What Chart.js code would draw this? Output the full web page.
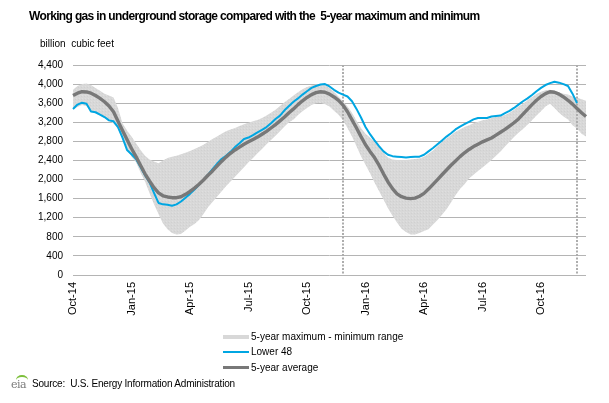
<!DOCTYPE html>
<html>
<head>
<meta charset="utf-8">
<script src="https://cdn.jsdelivr.net/npm/chart.js@4.4.1/dist/chart.umd.min.js"></script>
<style>
  html, body { margin: 0; padding: 0; background: #fff; }
  body { width: 609px; height: 403px; position: relative; overflow: hidden; font-family: "Liberation Sans", Arial, sans-serif; color: #000; }
  canvas { position: absolute; left: 0; top: 0; }
  .txt { position: absolute; white-space: pre; }
  #title { left: 29px; top: 9px; font-size: 12px; line-height: 14px; font-weight: bold; letter-spacing: -0.65px; }
  #units { left: 40px; top: 38px; font-size: 10px; line-height: 12px; }
  #legend { position: absolute; left: 0; top: 0; }
  .row { position: absolute; left: 223px; height: 12px; font-size: 10px; line-height: 12px; white-space: pre; }
  .sw { position: absolute; left: 0; width: 26px; }
  .row span { position: absolute; left: 28px; top: 0; }
  #source { left: 32px; top: 378px; font-size: 10px; line-height: 12px; letter-spacing: -0.2px; }
  #logo { position: absolute; left: 11px; top: 375px; width: 20px; height: 16px; }
  #logo b { position: absolute; left: 0; bottom: 0; font: 11px "DejaVu Serif", serif; color: #7a7a7a; letter-spacing: -0.5px; }
  #logo i { position: absolute; left: 5px; top: 0; width: 12px; height: 8px; border-top: 2px solid #7cbf3a; border-radius: 50% 50% 0 0; }
</style>
</head>
<body>
<canvas id="chart" width="609" height="403"></canvas>
<div id="title" class="txt">Working gas in underground storage compared with the  5-year maximum and minimum</div>
<div id="units" class="txt">billion  cubic feet</div>
<div id="legend"></div>
<div id="logo"><i></i><b>eia</b></div>
<div id="source" class="txt">Source:  U.S. Energy Information Administration</div>
<script>
// weekly data, first week ending Oct 24, 2014 (billion cubic feet)
const firstWeek = '2014-10-24';

const fiveYearMax = [
  3880, 3960, 4000, 4010, 3980, 3920, 3860, 3800, 3760, 3720,
  3500, 3180, 3030, 2900, 2760, 2620, 2500, 2420, 2380, 2340,
  2400, 2450, 2480, 2500, 2530, 2560, 2600, 2640, 2680, 2730,
  2790, 2850, 2900, 2960, 3010, 3050, 3080, 3120, 3160, 3190,
  3220, 3250, 3290, 3340, 3400, 3460, 3540, 3620, 3690, 3760,
  3830, 3890, 3940, 3970, 3990, 4000, 3980, 3920, 3840, 3740,
  3640, 3530, 3400, 3230, 3080, 2960, 2880, 2780, 2680, 2560,
  2460, 2420, 2410, 2410, 2410, 2420, 2430, 2440, 2480, 2540,
  2610, 2700, 2790, 2860, 2930, 3000, 3050, 3100, 3140, 3180,
  3210, 3240, 3260, 3290, 3310, 3330, 3350, 3400, 3460, 3530,
  3590, 3660, 3730, 3790, 3840, 3870, 3880, 3860, 3830, 3800,
  3780, 3740, 3720, 3680, 3650
];

const fiveYearMin = [
  3470, 3520, 3560, 3540, 3420, 3390, 3340, 3290, 3230, 3180,
  3060, 2850, 2620, 2480, 2360, 2150, 1960, 1720, 1480, 1280,
  1080, 960, 880, 850, 860, 930, 1010, 1070, 1150, 1280,
  1420, 1530, 1640, 1750, 1860, 1960, 2060, 2160, 2260, 2360,
  2450, 2550, 2640, 2740, 2830, 2920, 3010, 3110, 3200, 3260,
  3350, 3430, 3500, 3560, 3600, 3610, 3580, 3530, 3440, 3360,
  3240, 3080, 2900, 2700, 2490, 2310, 2130, 1940, 1760, 1580,
  1400, 1240, 1100, 970, 900, 850, 850, 880, 920, 960,
  1060, 1150, 1260, 1380, 1520, 1670, 1800, 1900, 2020, 2100,
  2180, 2250, 2330, 2410, 2500, 2590, 2690, 2790, 2890, 2980,
  3060, 3150, 3240, 3340, 3430, 3530, 3590, 3500, 3400, 3320,
  3260, 3140, 3070, 2960, 2900
];

const lower48 = [
  3480, 3571, 3611, 3589, 3427, 3410, 3359, 3310, 3240, 3220,
  3100, 2880, 2620, 2530, 2430, 2260, 2090, 1940, 1720, 1510,
  1480, 1470, 1450, 1480, 1540, 1620, 1700, 1790, 1890, 1990,
  2100, 2220, 2330, 2430, 2500, 2580, 2680, 2760, 2850, 2880,
  2930, 2990, 3040, 3100, 3180, 3270, 3340, 3450, 3540, 3630,
  3700, 3780, 3850, 3920, 3960, 3990, 4000, 3950, 3880, 3820,
  3780, 3740, 3640, 3480, 3300, 3100, 2950, 2820, 2700, 2590,
  2520, 2490, 2480, 2470, 2460, 2470, 2480, 2480, 2520, 2590,
  2660, 2740, 2820, 2900, 2970, 3050, 3110, 3160, 3210, 3260,
  3290, 3290, 3290, 3320, 3330, 3340, 3390, 3440, 3500, 3570,
  3640, 3700, 3770, 3850, 3920, 3980, 4020, 4050, 4030, 4000,
  3960, 3800, 3600
];

const fiveYearAvg = [
  3760, 3810, 3840, 3835, 3810, 3760, 3700, 3630, 3540, 3420,
  3220, 3030, 2840, 2650, 2480, 2300, 2120, 1970, 1830, 1720,
  1660, 1635, 1620, 1620, 1640, 1690, 1750, 1820, 1900, 1990,
  2090, 2180, 2280, 2380, 2470, 2550, 2620, 2680, 2740, 2790,
  2840, 2890, 2950, 3010, 3080, 3150, 3230, 3310, 3400, 3480,
  3570, 3650, 3720, 3780, 3820, 3840, 3830, 3790, 3730, 3660,
  3560, 3420, 3250, 3080, 2900, 2730, 2590, 2460, 2300, 2120,
  1950, 1810, 1700, 1640, 1610, 1600, 1610, 1650, 1710, 1800,
  1900, 2000, 2100, 2200, 2300, 2390, 2480, 2560, 2630, 2690,
  2740, 2790, 2830, 2870, 2930, 2990, 3050, 3120, 3190, 3270,
  3370, 3470, 3570, 3660, 3740, 3800, 3840, 3830, 3790, 3730,
  3660, 3580, 3490, 3400, 3320
];

// x axis labels and the weeks they sit on
const tickText = ['Oct-14', 'Jan-15', 'Apr-15', 'Jul-15', 'Oct-15', 'Jan-16', 'Apr-16', 'Jul-16', 'Oct-16'];
const tickWeek = [0, 13, 26, 39, 52, 65, 78, 91, 104];
// dotted vertical markers (same week one year apart)
const markerWeek = [60, 112];

const weeks = fiveYearAvg.map(function(v, i) {
  const d = new Date(firstWeek + 'T12:00:00');
  d.setDate(d.getDate() + 7 * i);
  return d.toISOString().slice(0, 10);
});

// faintly speckled grey fill like the original range band
function bandPattern() {
  const c = document.createElement('canvas');
  c.width = 3; c.height = 3;
  const g = c.getContext('2d');
  g.fillStyle = '#d8d8d8';
  g.fillRect(0, 0, 3, 3);
  g.fillStyle = '#d0d0d0';
  g.fillRect(0, 0, 1, 1);
  g.fillStyle = '#dfdfdf';
  g.fillRect(1, 2, 1, 1);
  return g.createPattern(c, 'repeat');
}

const markerLines = {
  id: 'markerLines',
  afterDatasetDraw: function(chart, args) {
    if (args.index !== 0) return;
    const ctx = chart.ctx;
    const area = chart.chartArea;
    const x = chart.scales.x;
    ctx.save();
    ctx.strokeStyle = '#adadad';
    ctx.lineWidth = 2;
    ctx.setLineDash([2, 1.5]);
    markerWeek.forEach(function(w) {
      const px = Math.round(x.getPixelForValue(w));
      ctx.beginPath();
      ctx.moveTo(px, area.top);
      ctx.lineTo(px, area.bottom);
      ctx.stroke();
    });
    ctx.restore();
  }
};

const band = bandPattern();

const chart = new Chart(document.getElementById('chart').getContext('2d'), {
  type: 'line',
  data: {
    labels: weeks,
    datasets: [
      {
        label: '5-year maximum - minimum range',
        data: fiveYearMax,
        borderWidth: 0,
        borderColor: 'rgba(0,0,0,0)',
        backgroundColor: band,
        fill: '+1',
        pointRadius: 0,
        order: 3
      },
      {
        label: '',
        data: fiveYearMin,
        borderWidth: 0,
        borderColor: 'rgba(0,0,0,0)',
        fill: false,
        pointRadius: 0,
        order: 4
      },
      {
        label: 'Lower 48',
        data: lower48,
        borderColor: '#00a6e2',
        borderWidth: 2,
        fill: false,
        pointRadius: 0,
        order: 2
      },
      {
        label: '5-year average',
        data: fiveYearAvg,
        borderColor: '#787878',
        borderWidth: 3.4,
        fill: false,
        pointRadius: 0,
        order: 1
      }
    ]
  },
  options: {
    responsive: false,
    animation: false,
    layout: { padding: { top: 65, right: 23, left: 0, bottom: 0 } },
    elements: { line: { tension: 0, borderCapStyle: 'butt', borderJoinStyle: 'round' } },
    plugins: {
      legend: { display: false },
      tooltip: { enabled: false },
      title: { display: false }
    },
    scales: {
      x: {
        offset: false,
        grid: { display: false, drawTicks: false },
        border: { display: false },
        afterFit: function(scale) { scale.height = 128; },
        ticks: {
          autoSkip: false,
          minRotation: 90,
          maxRotation: 90,
          padding: 7,
          color: '#000',
          font: { family: 'Liberation Sans', size: 11 },
          callback: function(value, index) {
            const k = tickWeek.indexOf(index);
            return k >= 0 ? tickText[k] : '';
          }
        }
      },
      y: {
        min: 0,
        max: 4400,
        grid: { color: '#b4b4b4', lineWidth: 1, drawTicks: false },
        border: { display: false },
        afterFit: function(scale) { scale.width = 73; },
        ticks: {
          stepSize: 400,
          padding: 10,
          color: '#000',
          font: { family: 'Liberation Sans', size: 10 },
          callback: function(value) {
            return value.toLocaleString('en-US');
          }
        }
      }
    }
  },
  plugins: [markerLines]
});

// legend, stacked like the original
const legendRows = [336.7, 351.7, 367.7];
const legendEl = document.getElementById('legend');
chart.data.datasets.filter(function(ds) { return ds.label; }).forEach(function(ds, i) {
  const row = document.createElement('div');
  row.className = 'row';
  row.style.top = (legendRows[i] - 6) + 'px';
  const sw = document.createElement('div');
  sw.className = 'sw';
  if (ds.fill) {
    sw.style.top = '4px';
    sw.style.height = '4px';
    sw.style.background = '#d8d8d8';
  } else {
    const h = Math.round(ds.borderWidth);
    sw.style.top = (6 - h / 2) + 'px';
    sw.style.height = h + 'px';
    sw.style.background = ds.borderColor;
  }
  const t = document.createElement('span');
  t.textContent = ds.label;
  row.appendChild(sw);
  row.appendChild(t);
  legendEl.appendChild(row);
});
</script>
</body>
</html>
